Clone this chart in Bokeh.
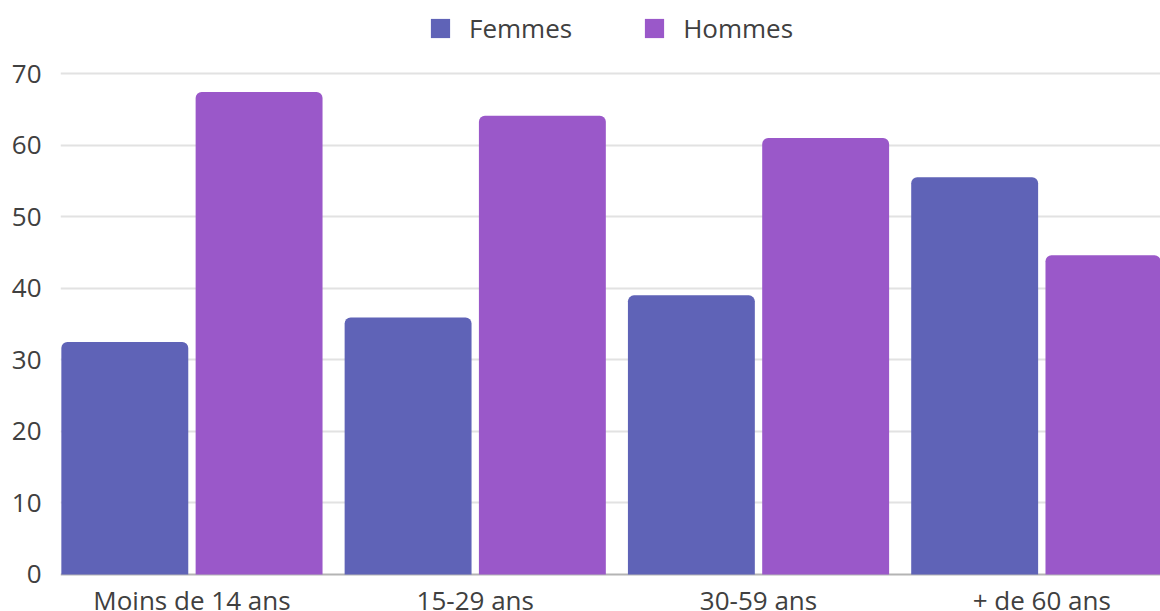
from bokeh.plotting import figure
from bokeh.models import ColumnDataSource, FixedTicker, Span, Legend, LegendItem
from bokeh.transform import dodge
from bokeh.core.properties import value
from bokeh.embed import file_html
from bokeh.resources import INLINE

categories = ["Moins de 14 ans", "15-29 ans", "30-59 ans", "+ de 60 ans"]
femmes = [32.5, 35.9, 39.0, 55.5]
hommes = [67.4, 64.1, 61.0, 44.6]
y_ticks = [0, 10, 20, 30, 40, 50, 60, 70]

FONT = "Open Sans"
TXT = "#404040"
C_F = "#5f63b7"
C_H = "#9a58c9"

src = ColumnDataSource(dict(
    x=list(range(len(categories))),
    cat=categories,
    femmes=femmes,
    hommes=hommes,
    zero=[0] * len(categories),
))

p = figure(width=1160, height=611, output_backend="svg", toolbar_location=None,
           x_range=(-0.464, 3.419), y_range=(-5.17, 80.2),
           min_border_left=60, min_border_right=0, min_border_top=0, min_border_bottom=0)
p.outline_line_color = None
p.xaxis.visible = False
p.xgrid.visible = False

yax = p.yaxis[0]
yax.ticker = FixedTicker(ticks=y_ticks)
yax.axis_line_color = None
yax.major_tick_line_color = None
yax.major_tick_out = 0
yax.major_tick_in = 0
yax.minor_tick_line_color = None
yax.major_label_text_font = FONT
yax.major_label_text_font_size = "26px"
yax.major_label_text_color = TXT
yax.major_label_standoff = 19

p.ygrid.ticker = FixedTicker(ticks=y_ticks[1:])
p.ygrid.grid_line_color = "#e2e2e2"
p.ygrid.grid_line_width = 2

zero_line = Span(location=0, dimension="width", line_color="#b4b4b4", line_width=2, level="underlay")
p.add_layout(zero_line)

rf = p.vbar(x=dodge("x", -0.237, range=p.x_range), top="femmes", width=0.448, source=src,
            fill_color=C_F, line_color=None, border_radius=(6, 6, 0, 0))
rh = p.vbar(x=dodge("x", 0.237, range=p.x_range), top="hommes", width=0.448, source=src,
            fill_color=C_H, line_color=None, border_radius=(6, 6, 0, 0))

p.text(x="x", y="zero", text="cat", source=src, text_font=value(FONT), text_font_size="26px",
       text_color=TXT, text_align="center", text_baseline="alphabetic", y_offset=26)

legend = Legend(items=[LegendItem(label="Femmes", renderers=[rf]),
                       LegendItem(label="Hommes", renderers=[rh])],
                orientation="horizontal", location=(368, 565),
                glyph_width=24, glyph_height=24, label_standoff=17, spacing=70,
                padding=0, margin=0, border_line_color=None, background_fill_alpha=0,
                label_text_font=FONT, label_text_font_size="26px", label_text_color=TXT)
p.add_layout(legend, "center")

open("out.html", "w").write(file_html(p, INLINE))
